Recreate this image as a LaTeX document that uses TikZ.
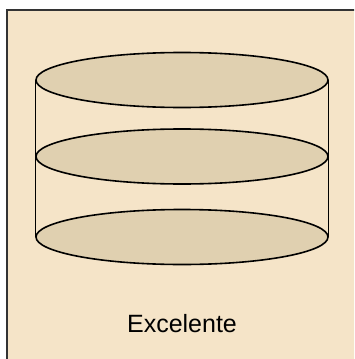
\documentclass[tikz,border=0pt]{standalone}
\usepackage{fontspec}
\setmainfont{Liberation Sans}
\usetikzlibrary{shapes.geometric}
\definecolor{paper}{RGB}{245,228,200}
\definecolor{disccol}{RGB}{224,208,176}
\tikzset{disc/.style={draw=black, fill=disccol, ellipse, line width=1.6pt, inner sep=0pt, minimum width=292pt, minimum height=55pt}}
\begin{document}
\begin{tikzpicture}[x=1pt, y=-1pt]
\useasboundingbox (0,0) rectangle (354,359);
\clip (0,0) rectangle (354,359);
\draw[fill=paper, draw=black!80, line width=2pt] (7,10) rectangle (370,359.6);

\node[disc] (top) at (182,80) {};
\node[disc] (mid) at (182,156.5) {};
\node[disc] (bot) at (182,237) {};

\draw[line width=0.8pt] (top.west) -- (mid.west);
\draw[line width=0.8pt] (mid.west) -- (bot.west);
\draw[line width=0.8pt] (top.east) -- (mid.east);
\draw[line width=0.8pt] (mid.east) -- (bot.east);

\node[anchor=base, font=\fontsize{25}{30}\selectfont] (label) at (182,332) {Excelente};
\end{tikzpicture}
\end{document}
